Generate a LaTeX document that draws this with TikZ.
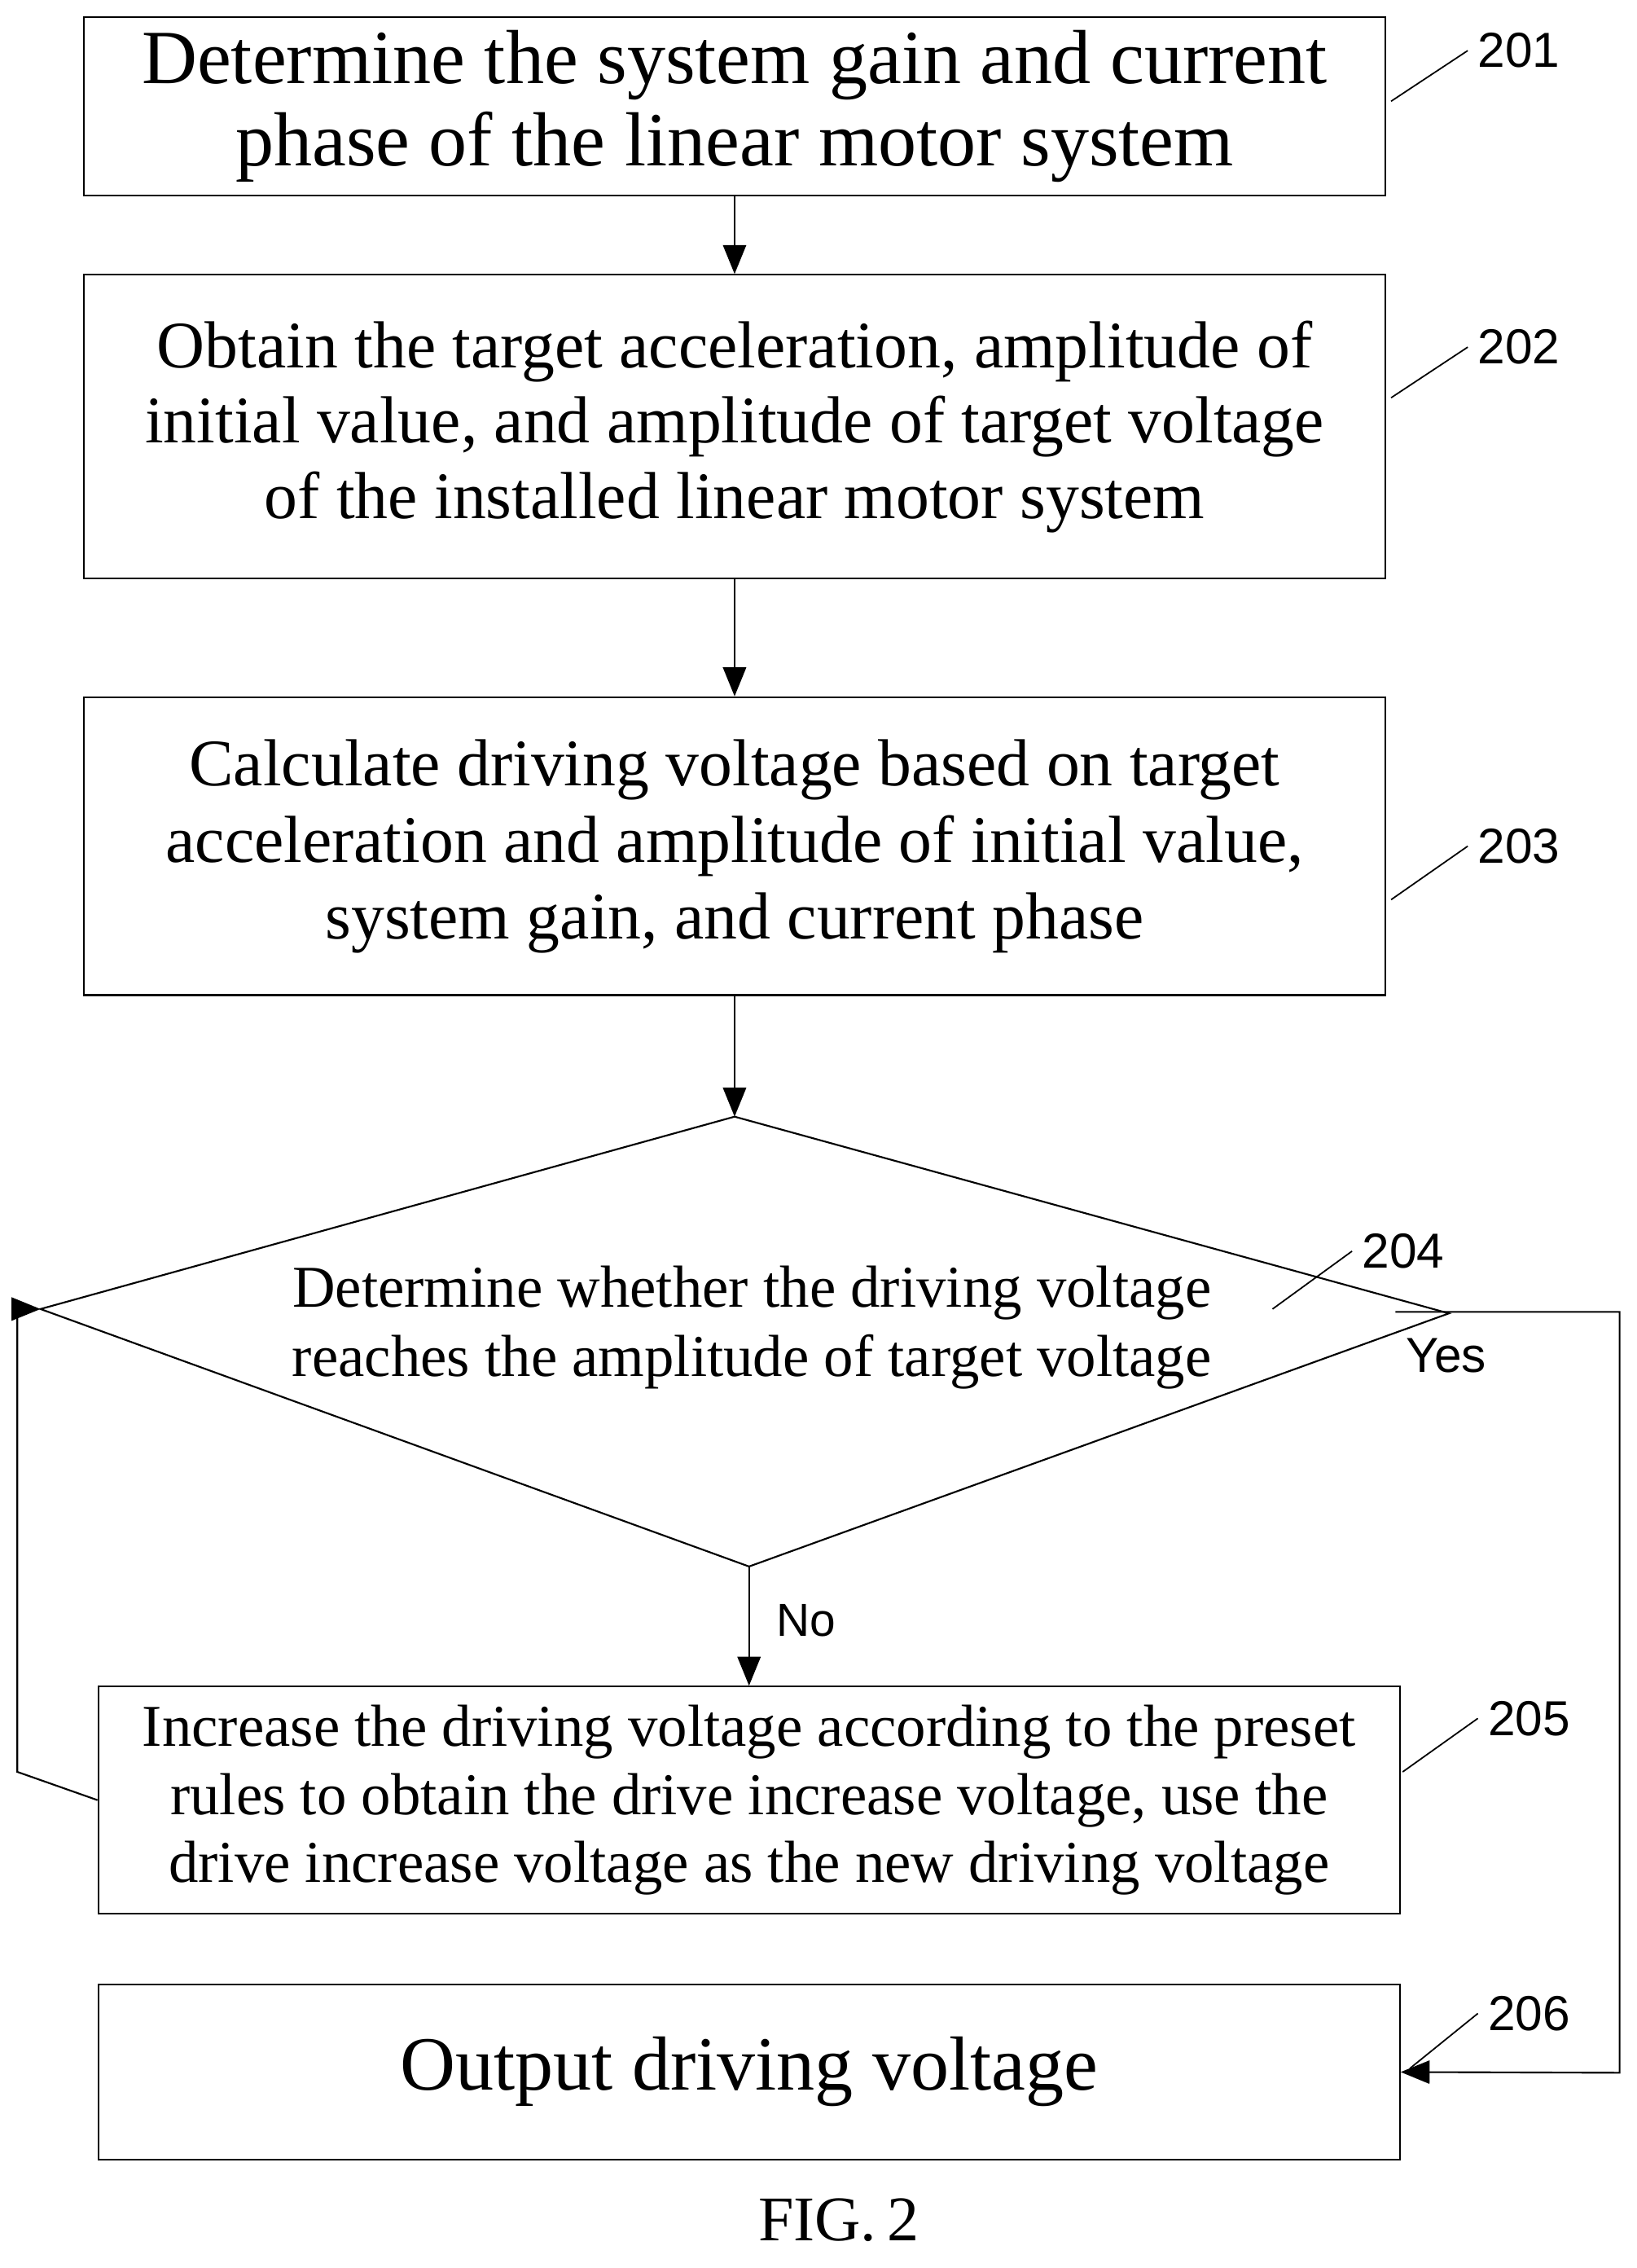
\documentclass[tikz,border=0pt]{standalone}
\usepackage{fontspec}
\setmainfont{Liberation Serif}
\setsansfont{Liberation Sans}
\usetikzlibrary{arrows.meta}
\begin{document}
\begin{tikzpicture}[x=0.5pt,y=-0.5pt,
 box/.style={draw,line width=0.6pt,align=center,inner sep=0pt},
 arr/.style={-{Triangle[length=10pt,width=8pt]},line width=0.6pt},
 num/.style={font=\sffamily\fontsize{17}{17}\selectfont,anchor=west},
 tick/.style={line width=0.5pt}]
\useasboundingbox (0,0) rectangle (1132,1568);
\node[box,minimum width=450pt,minimum height=61.5pt,font=\fontsize{26.5}{28.5}\selectfont] (b1) at (508,73.5) {Determine the system gain and current\\phase of the linear motor system};
\node[box,minimum width=450pt,minimum height=105pt,font=\fontsize{23}{26}\selectfont] (b2) at (508,295) {Obtain the target acceleration, amplitude of\\initial value, and amplitude of target voltage\\of the installed linear motor system};
\node[box,minimum width=450pt,minimum height=103pt,font=\fontsize{23}{26.5}\selectfont] (b3) at (508,585) {Calculate driving voltage based on target\\acceleration and amplitude of initial value,\\system gain, and current phase};
\coordinate (dt) at (508,772);
\coordinate (dl) at (28,905);
\coordinate (dr) at (1002,908);
\coordinate (db) at (518,1083);
\draw[line width=0.6pt] (dt)--(dr)--(db)--(dl)--cycle;
\node[font=\fontsize{20.5}{24}\selectfont,align=center] (dtx) at (520,918) {Determine whether the driving voltage\\reaches the amplitude of target voltage};
\node[box,minimum width=450pt,minimum height=78.5pt,font=\fontsize{20.5}{23.5}\selectfont] (b5) at (518,1244.5) {Increase the driving voltage according to the preset\\rules to obtain the drive increase voltage, use the\\drive increase voltage as the new driving voltage};
\node[box,minimum width=450pt,minimum height=60.5pt,font=\fontsize{26.5}{28}\selectfont] (b6) at (518,1432.5) {Output driving voltage};
\draw[arr] (b1.south)--(b2.north);
\draw[arr] (b2.south)--(b3.north);
\draw[arr] (b3.south)--(dt);
\draw[arr] (db)--(b5.north) node[pos=0.45,right=6pt,font=\sffamily\fontsize{16}{16}\selectfont] {No};
\coordinate (yr) at (1120,907);
\coordinate (yb) at (1120,1433);
\draw[arr] (965,907)--(yr)--(yb)--(b6.east);
\node[font=\sffamily\fontsize{17}{17}\selectfont] (yes) at (1000,937) {Yes};
\coordinate (nl) at (12,1225);
\coordinate (nt) at (12,905);
\draw[arr] (b5.west)--(nl)--(nt)--(dl);
\node[num] (n1) at (1015,35) {201};
\draw[tick] (962,70)--(n1.west);
\node[num] (n2) at (1015,240) {202};
\draw[tick] (962,275)--(n2.west);
\node[num] (n3) at (1015,585) {203};
\draw[tick] (962,622)--(n3.west);
\node[num] (n4) at (935,865) {204};
\draw[tick] (880,905)--(n4.west);
\node[num] (n5) at (1022,1188) {205};
\draw[tick] (970,1225)--(n5.west);
\node[num] (n6) at (1022,1392) {206};
\draw[tick] (975,1430)--(n6.west);
\node[font=\fontsize{22}{22}\selectfont] (fig) at (580,1535) {FIG.\,2};
\end{tikzpicture}
\end{document}
